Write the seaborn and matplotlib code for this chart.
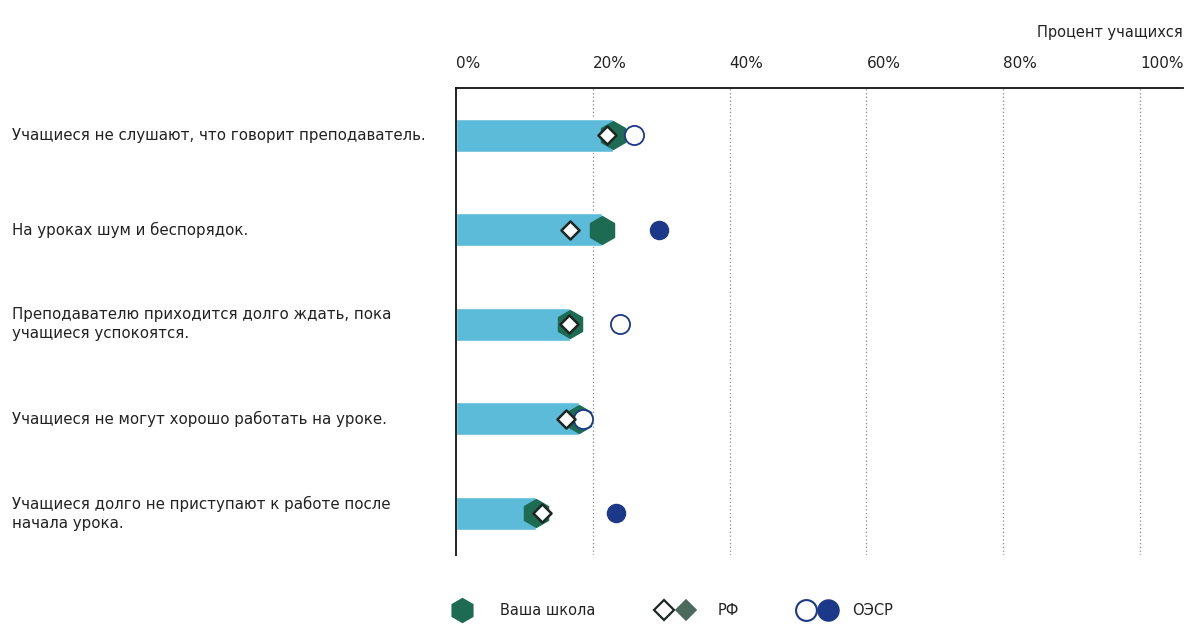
import pandas as pd
import matplotlib.pyplot as plt
import matplotlib.transforms as mtransforms
import seaborn as sns
from matplotlib.lines import Line2D

# data (percent of students)
items = ['Учащиеся не слушают, что говорит преподаватель.',
         'На уроках шум и беспорядок.',
         'Преподавателю приходится долго ждать, пока\nучащиеся успокоятся.',
         'Учащиеся не могут хорошо работать на уроке.',
         'Учащиеся долго не приступают к работе после\nначала урока.']
school = [23.0, 21.3, 16.7, 18.0, 11.7]
rf = [22.0, 16.7, 16.5, 16.0, 12.6]
oecd = [26.0, 29.7, 24.0, 18.6, 23.4]
oecd_filled = [False, True, False, False, True]
ticks = [0, 20, 40, 60, 80, 100]
tick_labels = ['0%', '20%', '40%', '60%', '80%', '100%']

bar_col = '#5bbbd9'
green = '#1d6b52'
navy = '#1c3888'
dark = '#1e2622'
txt = '#222222'

df = pd.DataFrame({'item': items, 'school': school, 'rf': rf, 'oecd': oecd,
                   'filled': oecd_filled})
df['pos'] = range(len(df))

sns.set_style('white')
plt.rcParams['font.family'] = ['DejaVu Sans']

fig = plt.figure(figsize=(11.94, 6.26), dpi=100)
ax = fig.add_axes([0.382, 0.1134, 0.6088, 0.746])

sns.barplot(data=df, x='school', y='item', orient='h', color=bar_col,
            width=0.35, saturation=1, ax=ax, zorder=2)

for x in ticks[1:]:
    ax.axvline(x, color='#888888', ls=(0, (1, 2)), lw=0.9, zorder=1)

# school hexagons
sns.scatterplot(x=df['school'], y=df['pos'], marker='h', s=400, color=green,
                edgecolor=green, linewidth=1, ax=ax, zorder=3)
# OECD circles
open_c = df[~df['filled']]
fill_c = df[df['filled']]
sns.scatterplot(x=open_c['oecd'], y=open_c['pos'], marker='o', s=190,
                color='white', edgecolor=navy, linewidth=1.3, ax=ax, zorder=4)
sns.scatterplot(x=fill_c['oecd'], y=fill_c['pos'], marker='o', s=170,
                color=navy, edgecolor=navy, linewidth=1, ax=ax, zorder=4)
# RF diamonds
sns.scatterplot(x=df['rf'], y=df['pos'], marker='D', s=85, color='white',
                edgecolor=dark, linewidth=1.8, ax=ax, zorder=5)

ax.set_xlim(0, 106.3)
ax.set_ylim(4.44, -0.5)
ax.set_xlabel('')
ax.set_ylabel('')
ax.xaxis.tick_top()
ax.set_xticks(ticks)
ax.set_xticklabels(tick_labels, fontsize=11, color=txt, ha='left')
ax.tick_params(axis='x', length=0, pad=12)
ax.set_yticks([])
for s in ['right', 'bottom']:
    ax.spines[s].set_visible(False)
ax.spines['top'].set_color('#111111')
ax.spines['top'].set_linewidth(1.3)
ax.spines['left'].set_color('#111111')
ax.spines['left'].set_linewidth(1.3)

# category labels on the far left
tr = mtransforms.blended_transform_factory(fig.transFigure, ax.transData)
for p, lab in zip(df['pos'], items):
    fig.text(12 / 1194, p, lab, transform=tr, ha='left', va='center',
             fontsize=10.8, color=txt, linespacing=1.35)

fig.text(0.9908, 0.948, 'Процент учащихся', ha='right', va='center',
         fontsize=10.5, color=txt)

# legend along the bottom
def lg_mark(x, marker, size, face, edge, lw=1.2):
    fig.add_artist(Line2D([x], [0.025], marker=marker, markersize=size,
                          markerfacecolor=face, markeredgecolor=edge,
                          markeredgewidth=lw, transform=fig.transFigure))

lg_mark(462 / 1194, 'h', 17, green, green)
fig.text(500 / 1194, 0.025, 'Ваша школа', va='center', fontsize=10.5, color=txt)
lg_mark(664 / 1194, 'D', 10, 'white', dark, 1.6)
lg_mark(686 / 1194, 'D', 10, '#4c6a5c', '#4c6a5c')
fig.text(718 / 1194, 0.025, 'РФ', va='center', fontsize=10.5, color=txt)
lg_mark(806 / 1194, 'o', 15, 'white', navy, 1.5)
lg_mark(828 / 1194, 'o', 15, navy, navy)
fig.text(852 / 1194, 0.025, 'ОЭСР', va='center', fontsize=10.5, color=txt)

plt.savefig('out.png', dpi=100)
